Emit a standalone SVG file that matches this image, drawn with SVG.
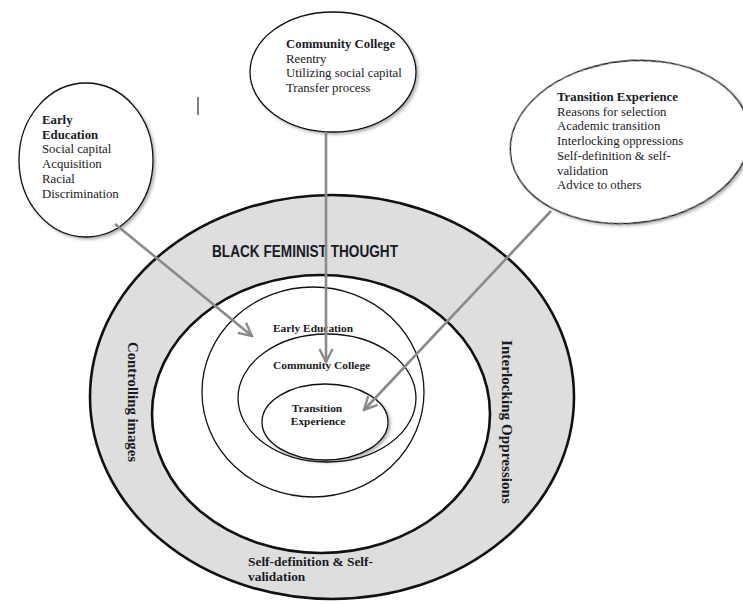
<svg xmlns="http://www.w3.org/2000/svg" width="743" height="604" viewBox="0 0 743 604">
<style>
  .t { font-family: "Liberation Serif", "Times New Roman", serif; fill: #1a1a24; }
  .bt { font-size: 12.8px; }
  .b { font-weight: bold; }
  .lab { font-size: 11.4px; font-weight: bold; }
  .band { font-size: 14.2px; font-weight: bold; }
  .thin { fill: none; stroke: #111; stroke-width: 1.3; }
  .thick { stroke: #111; stroke-width: 2.6; }
  .bubble { fill: #fff; stroke: #111; stroke-width: 1.3; filter: url(#sh); }
  .conn { fill: none; stroke: #8a8a8a; stroke-width: 2.6; marker-end: url(#arr); }
</style>
<defs>
  <filter id="sh" x="-10%" y="-10%" width="125%" height="125%">
    <feDropShadow dx="2" dy="2" stdDeviation="1.8" flood-color="#000" flood-opacity="0.3"/>
  </filter>
  <marker id="arr" viewBox="0 0 16 16" markerWidth="16" markerHeight="16" refX="14" refY="8" orient="auto" markerUnits="userSpaceOnUse">
    <path d="M1,1.5 L14,8 L1,14.5" fill="none" stroke="#8a8a8a" stroke-width="2.4" stroke-linejoin="miter"/>
  </marker>
</defs>
<rect x="0" y="0" width="743" height="604" fill="#fff"/>

<g id="black-feminist-thought">
  <ellipse cx="332" cy="397" rx="242" ry="202" fill="#dedede" class="thick"/>
  <text class="t" x="212" y="257" style="font-family:'Liberation Sans',Arial,sans-serif;font-weight:bold;font-size:16px" textLength="186" lengthAdjust="spacingAndGlyphs">BLACK FEMINIST THOUGHT</text>
  <text class="t band" transform="translate(128,342) rotate(90)" textLength="120" lengthAdjust="spacingAndGlyphs">Controlling images</text>
  <text class="t band" transform="translate(502,340) rotate(90)" textLength="164" lengthAdjust="spacingAndGlyphs">Interlocking Oppressions</text>
  <text class="t" x="248" y="566" style="font-size:13.4px;font-weight:bold">Self-definition &amp; Self-</text>
  <text class="t" x="248" y="581" style="font-size:13.4px;font-weight:bold">validation</text>
</g>

<g id="inner-circle">
  <ellipse cx="321" cy="414" rx="169" ry="139" fill="#fff" class="thick"/>
</g>

<g id="early-education-ring">
  <ellipse cx="313" cy="392" rx="111" ry="105" class="thin"/>
  <text class="t lab" x="273" y="332">Early Education</text>
</g>

<g id="community-college-ring">
  <ellipse cx="327" cy="398" rx="89" ry="64" class="thin"/>
  <text class="t lab" x="273" y="369">Community College</text>
</g>

<g id="transition-experience-ring">
  <ellipse cx="325" cy="422" rx="63" ry="38" fill="#fff" stroke="#111" stroke-width="1.3" filter="url(#sh)"/>
  <text class="t lab" x="317" y="412" text-anchor="middle">Transition</text>
  <text class="t lab" x="318" y="425" text-anchor="middle">Experience</text>
</g>

<g id="early-education-bubble">
  <ellipse cx="86" cy="160" rx="67" ry="77" class="bubble"/>
  <text class="t bt b" x="42" y="124">Early</text>
  <text class="t bt b" x="42" y="138.7">Education</text>
  <text class="t bt" x="42" y="153.4">Social capital</text>
  <text class="t bt" x="42" y="168.1">Acquisition</text>
  <text class="t bt" x="42" y="182.8">Racial</text>
  <text class="t bt" x="42" y="197.5">Discrimination</text>
</g>

<g id="community-college-bubble">
  <ellipse cx="333" cy="72" rx="83" ry="60" class="bubble"/>
  <text class="t bt b" x="286" y="48">Community College</text>
  <text class="t bt" x="286" y="62.7">Reentry</text>
  <text class="t bt" x="286" y="77.4">Utilizing social capital</text>
  <text class="t bt" x="286" y="92.1">Transfer process</text>
</g>

<g id="transition-experience-bubble">
  <ellipse cx="630" cy="142" rx="120" ry="81" transform="rotate(-6 630 142)" class="bubble"/>
  <text class="t bt b" x="557" y="101">Transition Experience</text>
  <text class="t bt" x="557" y="115.7">Reasons for selection</text>
  <text class="t bt" x="557" y="130.4">Academic transition</text>
  <text class="t bt" x="557" y="145.1">Interlocking oppressions</text>
  <text class="t bt" x="557" y="159.8">Self-definition &amp; self-</text>
  <text class="t bt" x="557" y="174.5">validation</text>
  <text class="t bt" x="557" y="189.2">Advice to others</text>
</g>

<line id="cursor" x1="198" y1="97" x2="198" y2="115" stroke="#555" stroke-width="1.5"/>

<g id="connectors">
  <line class="conn" x1="115" y1="224" x2="252" y2="336"/>
  <line class="conn" x1="326" y1="132" x2="326" y2="362"/>
  <line class="conn" x1="551" y1="211" x2="364" y2="410"/>
</g>
</svg>
